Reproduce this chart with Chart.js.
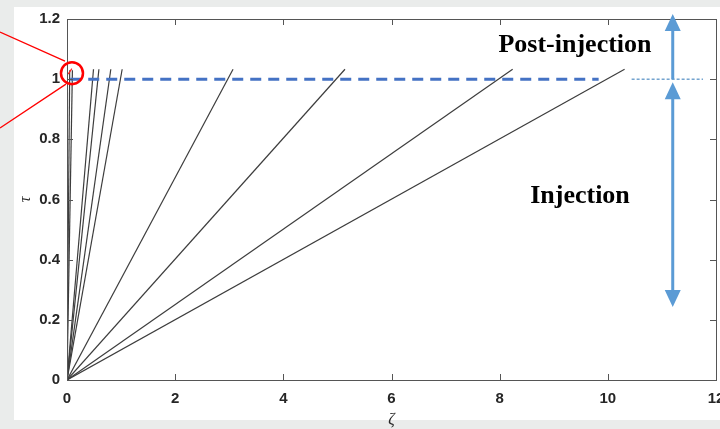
<!DOCTYPE html>
<html>
<head>
<meta charset="utf-8">
<script src="https://cdn.jsdelivr.net/npm/chart.js@4.4.1/dist/chart.umd.min.js"></script>
<style>
  html, body { margin: 0; padding: 0; overflow: hidden; background: #eaeceb; }
  #wrap { width: 740px; height: 429px; }
</style>
</head>
<body>
<div id="wrap"><canvas id="tauChart" width="740" height="429"></canvas></div>
<script>
// ray end points (all start at the origin)
const rayEndZeta = [0.05, 0.1, 0.49, 0.59, 0.81, 1.02, 3.07, 5.14, 8.24, 10.31];
const rayEndTau = [1.03, 1.03, 1.033, 1.033, 1.033, 1.033, 1.033, 1.033, 1.033, 1.033];

// end of injection (dashed) and the thin dotted marker
const injLineZeta = [0.06, 9.83];
const injLineTau = [1.0, 1.0];
const markZeta = [10.44, 11.76];
const markTau = [1.0, 1.0];

// red highlight inside the circle
const hiZeta = [0.02, 0.09];
const hiTau = [1.017, 1.035];

// arrows
const arrowZeta = 11.2;
const postArrowTau = [1.0, 1.217];   // single head at top
const injArrowTau = [0.99, 0.243];   // heads at both ends

const xTicks = [0, 2, 4, 6, 8, 10, 12];
const yTicks = [0, 0.2, 0.4, 0.6, 0.8, 1, 1.2];
const xTickLabels = ['0', '2', '4', '6', '8', '10', '12'];
const yTickLabels = ['0', '0.2', '0.4', '0.6', '0.8', '1', '1.2'];

const pts = (xs, ys) => xs.map((x, i) => ({ x: x, y: ys[i] }));

let datasets = [];
datasets.push({
    data: pts(hiZeta, hiTau),
    borderColor: '#ff2020',
    borderWidth: 1.2
});
datasets.push({
    data: pts(injLineZeta, injLineTau),
    borderColor: '#4472c4',
    borderWidth: 3,
    borderDash: [11, 7]
});
datasets.push({
    data: pts(markZeta, markTau),
    borderColor: '#2e75b6',
    borderWidth: 1,
    borderDash: [3, 2]
});
for (let i = 0; i < rayEndZeta.length; i++) {
    datasets.push({
        data: [{ x: 0, y: 0 }, { x: rayEndZeta[i], y: rayEndTau[i] }],
        borderColor: '#3d3d3d',
        borderWidth: 1.2
    });
}

const decor = {
    id: 'decor',
    beforeDraw(chart) {
        const c = chart.ctx;
        c.save();
        c.fillStyle = '#ffffff';
        c.fillRect(14, 7, 706, 413);
        c.restore();
    },
    afterDatasetsDraw(chart) {
        const c = chart.ctx;
        const a = chart.chartArea;
        const xs = chart.scales.x, ys = chart.scales.y;
        c.save();
        c.strokeStyle = '#555';
        c.lineWidth = 1;
        c.strokeRect(a.left + 0.5, a.top + 0.5, a.right - a.left, a.bottom - a.top);
        c.beginPath();
        xTicks.forEach(v => {
            const px = Math.round(xs.getPixelForValue(v)) + 0.5;
            c.moveTo(px, a.bottom); c.lineTo(px, a.bottom - 6);
            c.moveTo(px, a.top); c.lineTo(px, a.top + 6);
        });
        yTicks.forEach(v => {
            const py = Math.round(ys.getPixelForValue(v)) + 0.5;
            c.moveTo(a.left, py); c.lineTo(a.left + 6, py);
            c.moveTo(a.right, py); c.lineTo(a.right - 6, py);
        });
        c.stroke();
        c.restore();
    },
    afterDraw(chart) {
        const c = chart.ctx;
        const xs = chart.scales.x, ys = chart.scales.y;
        const ax = xs.getPixelForValue(arrowZeta);
        c.save();
        c.strokeStyle = '#5b9bd5';
        c.fillStyle = '#5b9bd5';
        c.lineWidth = 3;

        function head(x, tipY, dir) {
            // dir -1 = pointing up, 1 = pointing down
            c.beginPath();
            c.moveTo(x, tipY);
            c.lineTo(x - 8, tipY - dir * 17);
            c.lineTo(x + 8, tipY - dir * 17);
            c.closePath();
            c.fill();
        }
        // post-injection arrow
        let y0 = ys.getPixelForValue(postArrowTau[0]);
        let y1 = ys.getPixelForValue(postArrowTau[1]);
        c.beginPath(); c.moveTo(ax, y0); c.lineTo(ax, y1 + 10); c.stroke();
        head(ax, y1, -1);
        // injection arrow
        y0 = ys.getPixelForValue(injArrowTau[0]);
        y1 = ys.getPixelForValue(injArrowTau[1]);
        c.beginPath(); c.moveTo(ax, y0 + 10); c.lineTo(ax, y1 - 10); c.stroke();
        head(ax, y0, -1);
        head(ax, y1, 1);

        // labels
        c.fillStyle = '#000';
        c.font = 'bold 26px "Liberation Serif", "Times New Roman", serif';
        c.textAlign = 'center';
        c.textBaseline = 'alphabetic';
        c.fillText('Post-injection', 575, 52);
        c.fillText('Injection', 580, 203);

        // red circle callout
        const cx = xs.getPixelForValue(0.092), cy = ys.getPixelForValue(1.02);
        c.strokeStyle = '#ff0000';
        c.lineWidth = 2.5;
        c.beginPath(); c.arc(cx, cy, 11, 0, Math.PI * 2); c.stroke();
        c.lineWidth = 1.3;
        c.beginPath();
        c.moveTo(0, 32); c.lineTo(cx - 7, cy - 12);
        c.moveTo(cx - 6, cy + 11); c.lineTo(0, 128);
        c.stroke();
        c.restore();
    }
};

let ctx = document.getElementById('tauChart').getContext('2d');

let tauChart = new Chart(ctx, {
    type: 'scatter',
    data: { datasets: datasets },
    options: {
        responsive: false,
        animation: false,
        showLine: true,
        elements: { point: { radius: 0 }, line: { tension: 0 } },
        layout: { padding: { left: 14, right: 24, top: 19, bottom: 0 } },
        plugins: { legend: { display: false }, tooltip: { enabled: false } },
        scales: {
            x: {
                type: 'linear',
                min: 0,
                max: 12,
                afterBuildTicks: s => { s.ticks = xTicks.map(v => ({ value: v })); },
                afterFit: s => { s.height = 49; },
                grid: { display: false, drawTicks: false },
                border: { display: false },
                ticks: {
                    padding: 10,
                    maxRotation: 0,
                    color: '#262626',
                    font: { family: '"Liberation Sans", Arial, sans-serif', size: 15, weight: 'bold' },
                    callback: (v, i) => xTickLabels[i]
                },
                title: {
                    display: true,
                    text: 'ζ',
                    color: '#262626',
                    padding: { top: 0, bottom: 0 },
                    font: { family: '"Liberation Serif", serif', size: 16, style: 'italic' }
                }
            },
            y: {
                type: 'linear',
                min: 0,
                max: 1.2,
                afterBuildTicks: s => { s.ticks = yTicks.map(v => ({ value: v })); },
                afterFit: s => { s.width = 53; },
                grid: { display: false, drawTicks: false },
                border: { display: false },
                ticks: {
                    padding: 7,
                    color: '#262626',
                    font: { family: '"Liberation Sans", Arial, sans-serif', size: 15, weight: 'bold' },
                    callback: (v, i) => yTickLabels[i]
                },
                title: {
                    display: true,
                    text: 'τ',
                    color: '#262626',
                    padding: { top: 2, bottom: 0 },
                    font: { family: '"Liberation Serif", serif', size: 16, style: 'italic' }
                }
            }
        }
    },
    plugins: [decor]
});
</script>
</body>
</html>
